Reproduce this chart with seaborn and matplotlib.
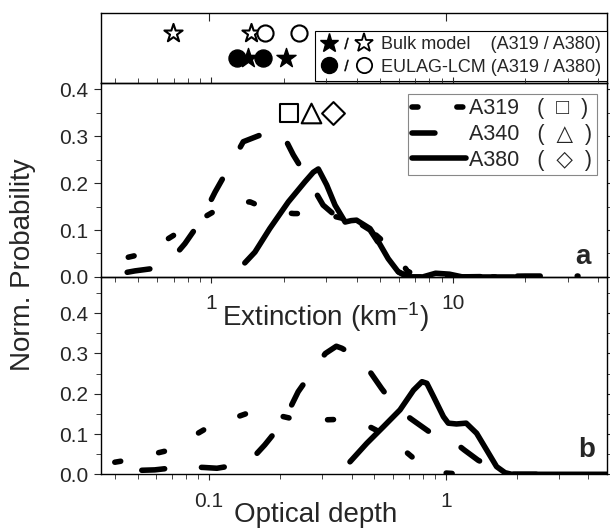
import numpy as np
import pandas as pd
import seaborn as sns
import matplotlib.pyplot as plt
from matplotlib.ticker import FuncFormatter, MultipleLocator, LogLocator, NullFormatter
from matplotlib.lines import Line2D
from matplotlib.legend_handler import HandlerTuple

# panel a: extinction (km^-1)
ext_a319 = [0.30, 0.36, 0.53, 0.76, 1.16, 1.45, 1.78, 2.2, 2.74, 3.3, 4.07, 4.8, 5.68, 6.5, 7.5, 10, 15]
prob_a319 = [0.02, 0.03, 0.05, 0.10, 0.155, 0.16, 0.14, 0.135, 0.135, 0.128, 0.117, 0.09, 0.057, 0.012, 0.0, 0.0, 0.0]
ext_a340 = [0.45, 0.485, 0.615, 0.68, 0.78, 0.90, 1.04, 1.18, 1.36, 1.73, 1.85, 2.0, 2.19, 2.49, 2.91,
            3.64, 4.0, 4.55, 5.16, 6.0, 6.6, 10, 20, 33]
prob_a340 = [0.01, 0.013, 0.020, 0.035, 0.071, 0.117, 0.181, 0.231, 0.288, 0.309, 0.315, 0.30, 0.26, 0.213, 0.153,
             0.11, 0.118, 0.10, 0.057, 0.01, 0.0, 0.0, 0.002, 0.002]
ext_a380 = [1.38, 1.52, 1.75, 2.09, 2.45, 2.65, 2.78, 3.01, 3.26, 3.59, 3.8, 4.0, 4.55, 4.93, 5.41, 5.95,
            6.55, 7.5, 8.5, 9.7, 11, 18]
prob_a380 = [0.03, 0.053, 0.103, 0.16, 0.203, 0.223, 0.23, 0.196, 0.153, 0.117, 0.12, 0.121, 0.103, 0.075, 0.039, 0.011,
             0.0, 0.0, 0.008, 0.006, 0.0, 0.0]

# panel b: optical depth
tau_a319 = [0.04, 0.045, 0.068, 0.1, 0.156, 0.2, 0.245, 0.3, 0.38, 0.47, 0.56, 0.77, 0.9, 1.2]
probb_a319 = [0.03, 0.035, 0.06, 0.118, 0.158, 0.145, 0.133, 0.135, 0.137, 0.12, 0.097, 0.029, 0.005, 0.0]
tau_a340 = [0.052, 0.059, 0.078, 0.095, 0.108, 0.137, 0.15, 0.172, 0.206, 0.238, 0.276, 0.31, 0.345, 0.364,
            0.442, 0.536, 0.62, 0.72, 0.85, 1.06, 1.2, 1.37, 1.64, 1.8, 2.5]
probb_a340 = [0.01, 0.011, 0.019, 0.017, 0.015, 0.025, 0.035, 0.073, 0.13, 0.205, 0.259, 0.30, 0.318, 0.313,
              0.284, 0.213, 0.164, 0.136, 0.106, 0.085, 0.06, 0.035, 0.011, 0.0, 0.0]
tau_a380 = [0.394, 0.464, 0.545, 0.641, 0.731, 0.794, 0.832, 0.888, 0.978, 1.025, 1.11, 1.22, 1.35, 1.49,
            1.64, 1.78, 1.9, 3.0, 5.0]
probb_a380 = [0.031, 0.077, 0.118, 0.160, 0.209, 0.23, 0.226, 0.193, 0.143, 0.127, 0.125, 0.127, 0.102, 0.06,
              0.019, 0.004, 0.0, 0.0, 0.0]

# mean extinction markers (A319, A340, A380)
mean_ext = [2.10, 2.59, 3.20]
mean_prob = [0.35, 0.35, 0.35]

# top panel: model optical depths
bulk_a319 = [0.1466, 0.2115]
bulk_a380 = [0.0703, 0.150]
lcm_a319 = [0.131, 0.1686]
lcm_a380 = [0.1724, 0.2406]
row_a319 = 0.356
row_a380 = 0.711

sns.set_style('ticks')
plt.rcParams['font.family'] = ['Liberation Sans', 'DejaVu Sans']
plt.rcParams['mathtext.fontset'] = 'custom'
plt.rcParams['mathtext.rm'] = 'Liberation Sans'
plt.rcParams['mathtext.default'] = 'regular'
plt.rcParams['lines.scale_dashes'] = False

lw = 4.0
dot_ls = (0, (4.3, 28))
dash_ls = (0, (16.5, 26.6))
tick_fs = 15
label_fs = 20

fig = plt.figure(figsize=(6.1, 5.29), dpi=100)
ax_top = fig.add_axes([0.1656, 0.843, 0.8295, 0.133])
ax_a = fig.add_axes([0.1656, 0.4764, 0.8295, 0.3667])
ax_b = fig.add_axes([0.1656, 0.1034, 0.8295, 0.373])
for ax in (ax_top, ax_a, ax_b):
    ax.set_facecolor('none')

# panel a
sns.lineplot(x=ext_a319, y=prob_a319, ax=ax_a, color='black', lw=lw, linestyle=dot_ls,
             dash_capstyle='round', label='A319   (  \u25a1  )', estimator=None)
sns.lineplot(x=ext_a340, y=prob_a340, ax=ax_a, color='black', lw=lw, linestyle=dash_ls,
             dash_capstyle='round', label='A340   (  \u25b3  )', estimator=None)
sns.lineplot(x=ext_a380, y=prob_a380, ax=ax_a, color='black', lw=lw, linestyle='-',
             solid_capstyle='round', label='A380   (  \u25c7  )', estimator=None)
for xv, yv, mk, s in zip(mean_ext, mean_prob, ['s', '^', 'D'], [150, 200, 135]):
    sns.scatterplot(x=[xv], y=[yv], ax=ax_a, marker=mk, s=s, facecolor='white',
                    edgecolor='black', linewidth=1.5, zorder=5)

# panel b
sns.lineplot(x=tau_a319, y=probb_a319, ax=ax_b, color='black', lw=lw, linestyle=dot_ls,
             dash_capstyle='round', estimator=None)
sns.lineplot(x=tau_a340, y=probb_a340, ax=ax_b, color='black', lw=lw, linestyle=dash_ls,
             dash_capstyle='round', estimator=None)
sns.lineplot(x=tau_a380, y=probb_a380, ax=ax_b, color='black', lw=lw, linestyle='-',
             solid_capstyle='round', estimator=None)

# top panel
sns.scatterplot(x=bulk_a380, y=[row_a380] * 2, ax=ax_top, marker='*', s=190,
                facecolor='white', edgecolor='black', linewidth=1.5)
sns.scatterplot(x=lcm_a380, y=[row_a380] * 2, ax=ax_top, marker='o', s=135,
                facecolor='white', edgecolor='black', linewidth=1.5)
sns.scatterplot(x=lcm_a319, y=[row_a319] * 2, ax=ax_top, marker='o', s=150,
                facecolor='black', edgecolor='black', linewidth=1)
sns.scatterplot(x=bulk_a319, y=[row_a319] * 2, ax=ax_top, marker='*', s=210,
                facecolor='black', edgecolor='black', linewidth=1)

fmt = FuncFormatter(lambda v, _: f'{v:g}')
for ax in (ax_top, ax_a, ax_b):
    ax.set_xscale('log')
    ax.xaxis.set_major_locator(LogLocator(base=10))
    ax.xaxis.set_minor_locator(LogLocator(base=10, subs=np.arange(2, 10)))
    ax.xaxis.set_major_formatter(fmt)
    ax.xaxis.set_minor_formatter(NullFormatter())
    ax.set_xlabel('')
    ax.set_ylabel('')
    for sp in ax.spines.values():
        sp.set_visible(True)
        sp.set_linewidth(1.0)
        sp.set_color('black')

ax_a.set_xlim(0.3507, 43.5)
ax_b.set_xlim(0.03498, 4.80)
ax_top.set_xlim(0.03498, 4.80)
ax_a.set_ylim(0, 0.413)
ax_b.set_ylim(0, 0.49)
ax_top.set_ylim(0, 1)

for ax in (ax_a, ax_b):
    ax.yaxis.set_major_locator(MultipleLocator(0.1))
    ax.yaxis.set_minor_locator(MultipleLocator(0.05))
    ax.yaxis.set_major_formatter(FuncFormatter(lambda v, _: f'{v:.1f}'))
    ax.tick_params(axis='y', which='both', direction='out', left=True, right=True,
                   labelsize=tick_fs, pad=4)
    ax.tick_params(axis='y', which='major', length=5)
    ax.tick_params(axis='y', which='minor', length=3.5)
    ax.tick_params(axis='x', which='both', direction='out', bottom=True, labelsize=tick_fs, pad=8)
    ax.tick_params(axis='x', which='major', length=4.5)
    ax.tick_params(axis='x', which='minor', length=3.5)

ax_a.tick_params(axis='x', which='both', top=True)
ax_b.tick_params(axis='x', which='both', top=False)
ax_top.tick_params(axis='x', which='both', direction='in', top=True, bottom=False, labelbottom=False)
ax_top.tick_params(axis='x', which='major', length=6)
ax_top.tick_params(axis='x', which='minor', length=0)
ax_top.tick_params(axis='y', left=False, labelleft=False)

ax_a.set_xlabel('Extinction (km$^{-1}$)', fontsize=label_fs)
ax_a.xaxis.set_label_coords(0.444, -0.12)
ax_b.set_xlabel('Optical depth', fontsize=label_fs)
ax_b.xaxis.set_label_coords(0.424, -0.14)
fig.text(0.038, 0.499, 'Norm. Probability', rotation=90, ha='center', va='center', fontsize=label_fs)

ax_a.text(0.953, 0.103, 'a', transform=ax_a.transAxes, ha='center', va='center',
          fontsize=20, fontweight='bold')
ax_b.text(0.96, 0.123, 'b', transform=ax_b.transAxes, ha='center', va='center',
          fontsize=20, fontweight='bold')

leg = ax_a.legend(loc='upper right', bbox_to_anchor=(0.98, 0.943), fontsize=15.5, handlelength=2.5,
                  handletextpad=0.15, labelspacing=0.22, borderaxespad=0, borderpad=0.2,
                  fancybox=False, framealpha=1, edgecolor='#888888')
leg.get_frame().set_linewidth(0.8)

# top legend: filled / open marker pairs
star_f = Line2D([], [], ls='none', marker='*', ms=14, mfc='black', mec='black')
star_o = Line2D([], [], ls='none', marker='*', ms=14, mfc='white', mec='black', mew=1.3)
circ_f = Line2D([], [], ls='none', marker='o', ms=11.5, mfc='black', mec='black')
circ_o = Line2D([], [], ls='none', marker='o', ms=11, mfc='white', mec='black', mew=1.3)
slash = Line2D([], [], ls='none', marker='$/$', ms=8, mfc='black', mec='black', mew=0.3)
leg2 = ax_top.legend([(star_f, slash, star_o), (circ_f, slash, circ_o)],
                     ['Bulk model    (A319 / A380)', 'EULAG-LCM (A319 / A380)'],
                     handler_map={tuple: HandlerTuple(ndivide=None, pad=0.0)},
                     loc='lower right', bbox_to_anchor=(1.0, 0.03), fontsize=13, handlelength=2.9,
                     handletextpad=0.5, labelspacing=0.3, borderaxespad=0, borderpad=0.3,
                     fancybox=False, framealpha=1, edgecolor='black')
leg2.get_frame().set_linewidth(0.8)

fig.savefig('out.png', dpi=100)
